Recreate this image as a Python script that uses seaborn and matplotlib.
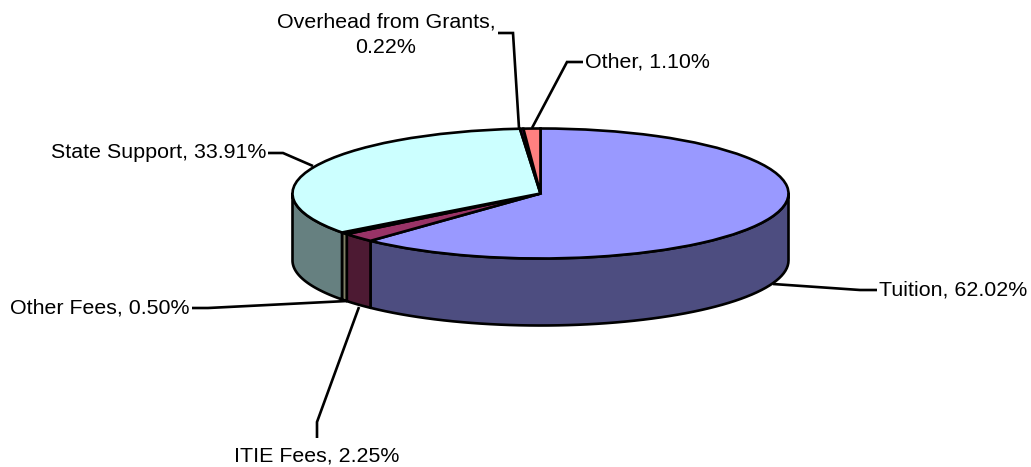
import numpy as np
import matplotlib
matplotlib.use("Agg")
import matplotlib.pyplot as plt
from matplotlib.patches import Polygon
from matplotlib.transforms import Affine2D
import seaborn as sns

# Data
names = ["Tuition", "ITIE Fees", "Other Fees", "State Support", "Overhead from Grants", "Other"]
shares = [62.02, 2.25, 0.50, 33.91, 0.22, 1.10]

top_colors = ["#9999FF", "#993366", "#FFFFCC", "#CCFFFF", "#660066", "#FF8080"]
side_colors = ["#4D4D80", "#4D1A33", "#808066", "#668080", "#330033", "#804040"]

sns.set_theme(style="white")
plt.rcParams["font.family"] = ["Liberation Sans", "DejaVu Sans"]

W, H = 1031, 467
CX, CY = 540.5, 193.5
RX, RY = 248, 65
DEPTH = 67
LW = 1.9


def py(y):
    return H - y


fig = plt.figure(figsize=(W / 100, H / 100), dpi=100)
ax = fig.add_axes([0, 0, 1, 1])

# Top face: ordinary pie squashed into an ellipse
wedges, _ = ax.pie(shares, colors=top_colors, startangle=90, counterclock=False,
                   wedgeprops={"edgecolor": "black", "linewidth": LW})
squash = Affine2D().scale(RX, RY).translate(CX, py(CY)) + ax.transData
for w in wedges:
    w.set_transform(squash)
    w.set_zorder(3)
ax.set_xlim(0, W)
ax.set_ylim(0, H)
ax.set_aspect("auto")
ax.axis("off")

# Side wall, only the front half is visible
ends = np.cumsum(shares) / 100
starts = ends - np.array(shares) / 100
for s, e, c in zip(starts, ends, side_colors):
    lo, hi = max(s, 0.25), min(e, 0.75)
    if hi <= lo:
        continue
    t = np.linspace(lo, hi, 60) * 2 * np.pi
    x = CX + RX * np.sin(t)
    y = py(CY) + RY * np.cos(t)
    pts = np.r_[np.c_[x, y], np.c_[x, y - DEPTH][::-1]]
    ax.add_patch(Polygon(pts, closed=True, facecolor=c, edgecolor="black",
                         linewidth=LW, joinstyle="round", zorder=2))

# Leader lines and labels (pixel positions from the picture)
leaders = [
    [(773, 284), (860, 290), (877, 290)],
    [(359, 307), (317, 422), (317, 438)],
    [(347, 301), (208, 308), (192, 308)],
    [(313, 166), (283, 153), (268, 153)],
    [(519, 128), (513, 33), (498, 33)],
    [(532, 128), (567, 62), (583, 62)],
]
label_pos = [
    (879, 289.5, "left"),
    (317, 456, "center"),
    (189.5, 308, "right"),
    (266, 152.5, "right"),
    (386, 34.5, "center"),
    (585, 62, "left"),
]

for name, val, line, (lx, ly, ha) in zip(names, shares, leaders, label_pos):
    xs, ys = zip(*line)
    ax.plot(xs, [py(v) for v in ys], color="black", lw=LW, zorder=4,
            solid_capstyle="butt", solid_joinstyle="miter")
    sep = ",\n" if name.startswith("Overhead") else ", "
    ax.text(lx, py(ly), f"{name}{sep}{val:.2f}%", ha=ha, va="center",
            multialignment="center", fontsize=15.4, color="black",
            linespacing=1.45, zorder=5)

fig.savefig("out.png", dpi=100, facecolor="white")
